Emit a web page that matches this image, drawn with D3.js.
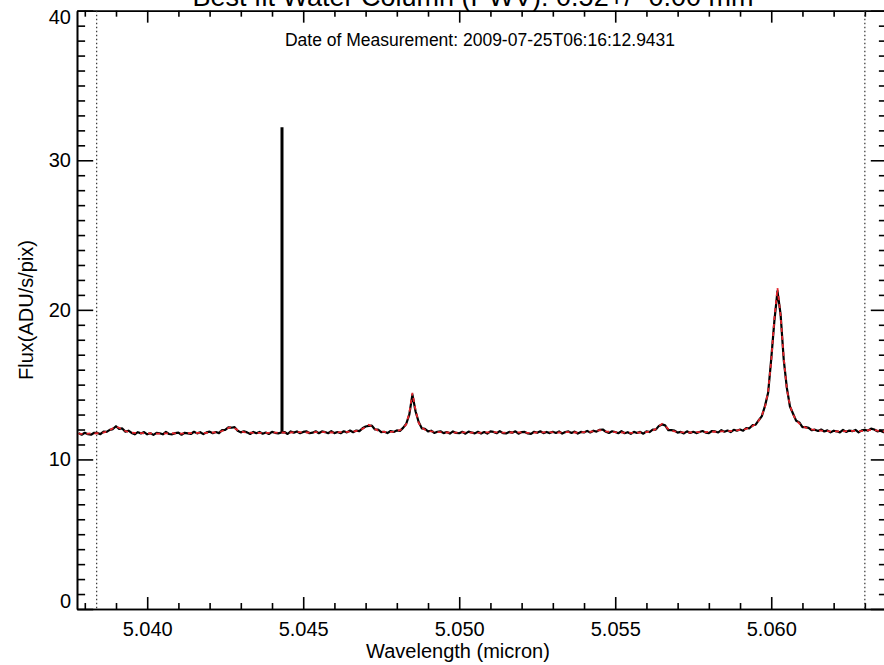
<!DOCTYPE html>
<html>
<head>
<meta charset="utf-8">
<script src="https://cdn.jsdelivr.net/npm/d3@7"></script>
<style>
  html, body { margin: 0; padding: 0; background: #fff; }
  svg { display: block; font-family: "Liberation Sans", Helvetica, Arial, sans-serif; }
</style>
</head>
<body>
<svg id="chart" width="884" height="665"></svg>
<script>
// spectrum sampled on a regular grid (micron)
const wlStart = 5.0378;
const wlStep = 0.0001;

// observed flux (ADU/s/pix), black
const obsFlux = [
  11.76, 11.65, 11.78, 11.69, 11.65, 11.78, 11.77, 11.69, 11.86, 11.84,
  11.98, 12.03, 12.22, 12.04, 12.07, 11.86, 11.92, 11.77, 11.68, 11.82,
  11.74, 11.83, 11.68, 11.75, 11.64, 11.78, 11.75, 11.68, 11.84, 11.70,
  11.68, 11.76, 11.79, 11.65, 11.78, 11.74, 11.70, 11.85, 11.74, 11.82,
  11.69, 11.81, 11.86, 11.75, 11.83, 11.76, 11.96, 11.97, 12.14, 12.12,
  12.16, 11.92, 11.81, 11.88, 11.81, 11.70, 11.84, 11.75, 11.84, 11.72,
  11.80, 11.70, 11.84, 11.78, 11.74, 11.80, 11.83, 11.70, 11.87, 11.79,
  11.87, 11.75, 11.84, 11.88, 11.75, 11.79, 11.88, 11.75, 11.87, 11.83,
  11.75, 11.89, 11.76, 11.83, 11.75, 11.88, 11.81, 11.93, 11.82, 11.93,
  11.89, 12.08, 12.20, 12.24, 12.26, 12.00, 12.00, 11.82, 11.85, 11.76,
  11.90, 11.84, 11.94, 11.90, 12.11, 12.37, 13.00, 14.33, 13.22, 12.50,
  12.08, 12.05, 11.88, 11.92, 11.77, 11.85, 11.88, 11.76, 11.83, 11.73,
  11.87, 11.77, 11.75, 11.85, 11.72, 11.86, 11.80, 11.74, 11.85, 11.73,
  11.83, 11.73, 11.87, 11.84, 11.75, 11.89, 11.76, 11.74, 11.84, 11.79,
  11.88, 11.72, 11.83, 11.84, 11.74, 11.71, 11.85, 11.78, 11.88, 11.76,
  11.84, 11.76, 11.85, 11.77, 11.87, 11.73, 11.83, 11.87, 11.77, 11.86,
  11.73, 11.84, 11.80, 11.91, 11.80, 11.92, 11.86, 11.98, 12.00, 11.85,
  11.77, 11.88, 11.83, 11.75, 11.89, 11.75, 11.82, 11.71, 11.84, 11.77,
  11.84, 11.72, 11.88, 11.83, 11.99, 11.99, 12.24, 12.34, 12.28, 11.96,
  11.96, 11.93, 11.79, 11.84, 11.74, 11.88, 11.77, 11.85, 11.76, 11.83,
  11.90, 11.79, 11.76, 11.90, 11.87, 11.80, 11.96, 11.85, 11.93, 11.83,
  11.98, 11.92, 12.00, 11.92, 12.10, 12.08, 12.29, 12.32, 12.62, 12.90,
  13.58, 14.45, 16.72, 19.25, 21.25, 19.70, 16.68, 14.78, 13.54, 13.05,
  12.58, 12.47, 12.16, 12.16, 12.11, 11.95, 11.99, 11.90, 12.00, 11.87,
  11.94, 11.81, 11.92, 11.88, 11.81, 11.97, 11.84, 11.93, 11.89, 11.97,
  11.81, 11.94, 11.98, 11.92, 12.06, 12.00, 11.88, 11.92, 11.82, 11.91
];

// single hot pixel in the observed spectrum
const spikeWl = 5.04432;
const spikeFlux = 32.2;

// best fit model flux, red dashed
const modelFlux = [
  11.72, 11.71, 11.70, 11.72, 11.74, 11.73, 11.75, 11.76, 11.80, 11.86,
  11.95, 12.08, 12.18, 12.12, 12.00, 11.90, 11.83, 11.80, 11.78, 11.77,
  11.76, 11.75, 11.74, 11.74, 11.73, 11.72, 11.72, 11.73, 11.74, 11.74,
  11.75, 11.74, 11.73, 11.73, 11.74, 11.75, 11.76, 11.76, 11.77, 11.77,
  11.78, 11.78, 11.79, 11.80, 11.81, 11.84, 11.90, 11.99, 12.10, 12.18,
  12.08, 11.96, 11.88, 11.83, 11.80, 11.79, 11.78, 11.78, 11.77, 11.77,
  11.78, 11.78, 11.79, 11.79, 11.80, 11.80, 11.79, 11.79, 11.80, 11.81,
  11.82, 11.82, 11.81, 11.80, 11.80, 11.81, 11.82, 11.83, 11.83, 11.82,
  11.81, 11.80, 11.80, 11.81, 11.82, 11.83, 11.84, 11.85, 11.87, 11.90,
  11.95, 12.04, 12.18, 12.32, 12.20, 12.03, 11.93, 11.87, 11.84, 11.83,
  11.84, 11.86, 11.90, 11.96, 12.08, 12.35, 13.10, 14.45, 13.30, 12.45,
  12.12, 11.98, 11.91, 11.87, 11.85, 11.83, 11.82, 11.81, 11.80, 11.80,
  11.79, 11.79, 11.80, 11.81, 11.81, 11.80, 11.79, 11.78, 11.78, 11.79,
  11.80, 11.81, 11.82, 11.82, 11.81, 11.80, 11.79, 11.79, 11.80, 11.80,
  11.81, 11.81, 11.80, 11.79, 11.78, 11.78, 11.79, 11.80, 11.80, 11.81,
  11.82, 11.82, 11.81, 11.80, 11.80, 11.81, 11.82, 11.82, 11.81, 11.80,
  11.80, 11.81, 11.82, 11.83, 11.85, 11.88, 11.92, 11.96, 11.93, 11.88,
  11.85, 11.83, 11.82, 11.81, 11.80, 11.79, 11.79, 11.78, 11.78, 11.79,
  11.80, 11.81, 11.83, 11.86, 11.92, 12.04, 12.22, 12.38, 12.22, 12.04,
  11.93, 11.87, 11.84, 11.82, 11.81, 11.80, 11.80, 11.81, 11.82, 11.82,
  11.83, 11.83, 11.84, 11.85, 11.85, 11.86, 11.87, 11.88, 11.89, 11.90,
  11.92, 11.94, 11.97, 12.00, 12.05, 12.12, 12.22, 12.38, 12.60, 12.95,
  13.50, 14.55, 16.60, 19.40, 21.45, 19.60, 16.80, 14.70, 13.60, 13.00,
  12.62, 12.40, 12.24, 12.13, 12.06, 12.01, 11.97, 11.94, 11.92, 11.90,
  11.89, 11.88, 11.88, 11.87, 11.87, 11.88, 11.89, 11.90, 11.91, 11.90,
  11.89, 11.90, 11.92, 11.95, 11.98, 11.96, 11.93, 11.90, 11.88, 11.86
];

const xMajor = [5.040, 5.045, 5.050, 5.055, 5.060];
const xMinor = [5.038, 5.039, 5.041, 5.042, 5.043, 5.044, 5.046, 5.047, 5.048, 5.049,
  5.051, 5.052, 5.053, 5.054, 5.056, 5.057, 5.058, 5.059, 5.061, 5.062, 5.063];
const yMajor = [0, 10, 20, 30, 40];
const yMinor = d3.range(1, 40).filter(v => v % 10 !== 0);
const fitLimits = [5.03838, 5.0630];

const titleText = "Best fit Water Column (PWV): 0.52+/- 0.00 mm";
const dateText = "Date of Measurement: 2009-07-25T06:16:12.9431";

function drawChart() {
    const width = 884;
    const height = 665;
    const leftBorder = 77;
    const rightEdge = 887;
    const topBorder = 10.7;
    const bottomEdge = 609;
    const plotW = rightEdge - leftBorder;
    const plotH = bottomEdge - topBorder;

    const svg = d3.select("#chart");
    svg.append("rect").attr("width", width).attr("height", height).attr("fill", "#fff");

    const x = d3.scaleLinear().domain([5.03775, 5.06371]).range([leftBorder, rightEdge]);
    const y = d3.scaleLinear().domain([0, 40]).range([bottomEdge, topBorder]);

    const xLen = plotH * 0.02;
    const yLen = plotW * 0.02;

    // axes: major ticks with labels, minor ticks half length
    svg.append("g").attr("transform", "translate(0," + bottomEdge + ")")
        .call(d3.axisBottom(x).tickValues(xMajor).tickFormat(d3.format(".3f"))
            .tickSizeInner(-xLen).tickSizeOuter(0).tickPadding(13));
    svg.append("g").attr("transform", "translate(0," + bottomEdge + ")")
        .call(d3.axisBottom(x).tickValues(xMinor).tickFormat("").tickSizeInner(-xLen / 2).tickSizeOuter(0));
    svg.append("g").attr("transform", "translate(0," + topBorder + ")")
        .call(d3.axisTop(x).tickValues(xMajor).tickFormat("").tickSizeInner(-xLen).tickSizeOuter(0));
    svg.append("g").attr("transform", "translate(0," + topBorder + ")")
        .call(d3.axisTop(x).tickValues(xMinor).tickFormat("").tickSizeInner(-xLen / 2).tickSizeOuter(0));

    const left = svg.append("g").attr("transform", "translate(" + leftBorder + ",0)")
        .call(d3.axisLeft(y).tickValues(yMajor).tickFormat(d3.format("d"))
            .tickSizeInner(-yLen).tickSizeOuter(0).tickPadding(6));
    svg.append("g").attr("transform", "translate(" + leftBorder + ",0)")
        .call(d3.axisLeft(y).tickValues(yMinor).tickFormat("").tickSizeInner(-yLen / 2).tickSizeOuter(0));
    svg.append("g").attr("transform", "translate(" + rightEdge + ",0)")
        .call(d3.axisRight(y).tickValues(yMajor).tickFormat("").tickSizeInner(-yLen).tickSizeOuter(0));
    svg.append("g").attr("transform", "translate(" + rightEdge + ",0)")
        .call(d3.axisRight(y).tickValues(yMinor).tickFormat("").tickSizeInner(-yLen / 2).tickSizeOuter(0));

    svg.selectAll(".tick line").attr("stroke", "#000").attr("stroke-width", 1.6);
    svg.selectAll(".domain").attr("stroke", "#000").attr("stroke-width", 1.6);
    svg.selectAll(".tick text").attr("fill", "#000").attr("font-size", 20)
        .attr("font-family", "'Liberation Sans', Helvetica, Arial, sans-serif");
    // IDL nudges the end labels inside the box
    left.selectAll(".tick text").attr("dy", d => d === 0 ? "-0.08em" : d === 40 ? "0.62em" : "0.32em");

    // fit region limits
    svg.selectAll(".limit").data(fitLimits).enter().append("line")
        .attr("class", "limit")
        .attr("x1", d => x(d)).attr("x2", d => x(d))
        .attr("y1", topBorder).attr("y2", bottomEdge)
        .attr("stroke", "#333").attr("stroke-width", 1.2)
        .attr("stroke-dasharray", "1.5,2.5");

    svg.append("clipPath").attr("id", "plotclip").append("rect")
        .attr("x", leftBorder).attr("y", topBorder).attr("width", plotW).attr("height", plotH);

    const specLine = d3.line().x((d, i) => x(wlStart + i * wlStep)).y(d => y(d));
    svg.append("path").datum(obsFlux)
        .attr("clip-path", "url(#plotclip)")
        .attr("d", specLine)
        .attr("fill", "none").attr("stroke", "#000").attr("stroke-width", 2.2)
        .attr("stroke-linejoin", "round");
    svg.append("line")
        .attr("x1", x(spikeWl)).attr("x2", x(spikeWl))
        .attr("y1", y(obsFlux[65])).attr("y2", y(spikeFlux))
        .attr("stroke", "#000").attr("stroke-width", 3);
    svg.append("path").datum(modelFlux)
        .attr("clip-path", "url(#plotclip)")
        .attr("d", specLine)
        .attr("fill", "none").attr("stroke", "#e3242b").attr("stroke-width", 1.8)
        .attr("stroke-dasharray", "4,4");

    // texts
    svg.append("text").attr("x", 473).attr("y", 6).attr("text-anchor", "middle")
        .attr("font-size", 27).text(titleText);
    svg.append("text").attr("x", 480).attr("y", 46).attr("text-anchor", "middle")
        .attr("font-size", 17.5).text(dateText);
    svg.append("text").attr("x", 458).attr("y", 658).attr("text-anchor", "middle")
        .attr("font-size", 20).text("Wavelength (micron)");
    svg.append("text").attr("transform", "translate(33,310) rotate(-90)")
        .attr("text-anchor", "middle").attr("font-size", 20).text("Flux(ADU/s/pix)");
}

drawChart();
</script>
</body>
</html>
